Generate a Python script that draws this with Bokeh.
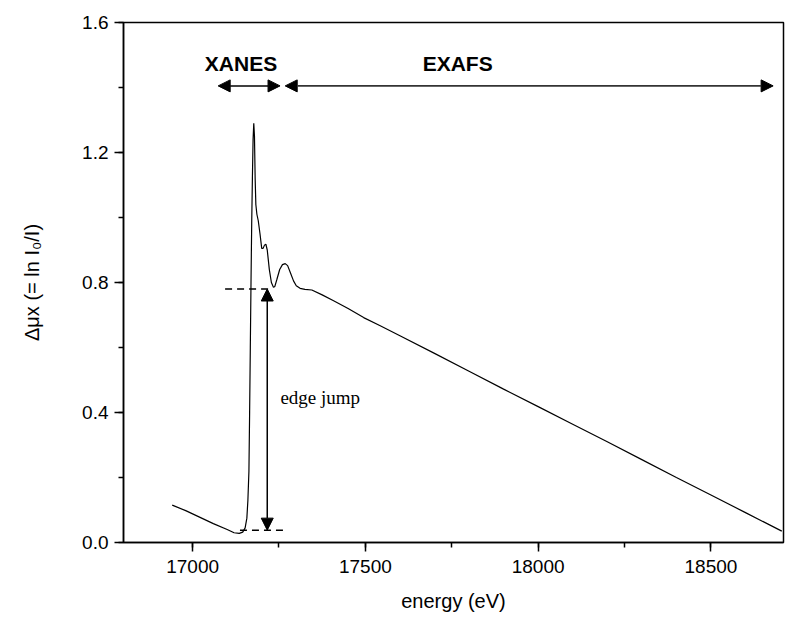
from bokeh.plotting import figure
from bokeh.models import Range1d, Arrow, NormalHead, Label, FixedTicker, CustomJSTickFormatter
from bokeh.embed import file_html
from bokeh.resources import INLINE

# spectrum (energy in eV, absorption)
energy = [16941, 16980, 17020, 17060, 17100, 17120, 17135, 17145, 17152, 17157,
          17160, 17163, 17165, 17167, 17169, 17171, 17173, 17175, 17177, 17179,
          17181, 17183, 17186, 17190, 17195, 17200, 17204, 17208, 17212, 17216,
          17222, 17228, 17234, 17238, 17244, 17252, 17260, 17268, 17275, 17283,
          17292, 17300, 17311, 17325, 17345, 17375, 17408, 17450, 17495, 17543,
          17600, 17700, 17800, 17900, 18000, 18100, 18200, 18300, 18400, 18500,
          18600, 18705]
mu = [0.115, 0.098, 0.078, 0.058, 0.040, 0.030, 0.028, 0.032, 0.045, 0.075,
      0.13, 0.22, 0.40, 0.60, 0.80, 0.98, 1.12, 1.24, 1.29, 1.25,
      1.12, 1.04, 1.01, 0.99, 0.95, 0.905, 0.905, 0.915, 0.918, 0.90,
      0.84, 0.80, 0.785, 0.788, 0.81, 0.84, 0.855, 0.858, 0.852, 0.83,
      0.805, 0.79, 0.782, 0.779, 0.777, 0.762, 0.744, 0.72, 0.692, 0.667,
      0.636, 0.582, 0.527, 0.472, 0.418, 0.364, 0.310, 0.255, 0.200, 0.146,
      0.092, 0.035]

x_ticks = [17000, 17500, 18000, 18500]
y_ticks = [0.0, 0.4, 0.8, 1.2, 1.6]

# annotations
edge_top = 0.78
edge_bottom = 0.038
edge_x = 17216
xanes_range = [17074, 17253]
exafs_range = [17268, 18680]
region_arrow_y = 1.405
region_label_y = 1.473

p = figure(width=803, height=630, output_backend="svg", toolbar_location=None,
           x_range=Range1d(16800, 18710), y_range=Range1d(0.0, 1.6))
p.min_border_left = 123
p.min_border_right = 20
p.min_border_top = 22
p.min_border_bottom = 88
p.background_fill_color = "white"
p.border_fill_color = "white"
p.outline_line_color = "black"
p.outline_line_width = 1.5
p.grid.visible = False

p.line(energy, mu, line_color="black", line_width=1.2)

for ax in (p.xaxis[0], p.yaxis[0]):
    ax.axis_line_width = 1.5
    ax.major_tick_line_width = 1.5
    ax.minor_tick_line_width = 1.5
    ax.major_tick_out = 9
    ax.major_tick_in = 0
    ax.minor_tick_out = 5
    ax.minor_tick_in = 0
    ax.major_label_text_font = "Liberation Sans"
    ax.major_label_text_font_size = "19px"
    ax.major_label_text_color = "black"
    ax.axis_label_text_font = "Liberation Sans"
    ax.axis_label_text_font_size = "20px"
    ax.axis_label_text_font_style = "normal"
    ax.axis_label_text_color = "black"

p.xaxis.ticker = FixedTicker(ticks=x_ticks, minor_ticks=[16750 + 250 * i for i in range(9)])
p.yaxis.ticker = FixedTicker(ticks=y_ticks, minor_ticks=[0.2 * i for i in range(9)])
p.yaxis.formatter = CustomJSTickFormatter(code="return tick.toFixed(1);")
p.xaxis.axis_label = "energy (eV)"
p.yaxis.axis_label = "Δμx (= ln I₀/I)"
p.xaxis.major_label_standoff = 8
p.yaxis.major_label_standoff = 6
p.xaxis.axis_label_standoff = 14
p.yaxis.axis_label_standoff = 36

# edge jump markers
p.line([17094, 17232], [edge_top, edge_top], line_color="black", line_width=1.5, line_dash="7 5")
p.line([17137, 17268], [edge_bottom, edge_bottom], line_color="black", line_width=1.5, line_dash="7 5")
head = dict(size=12, fill_color="black", line_color="black")
p.add_layout(Arrow(start=NormalHead(**head), end=NormalHead(**head),
                   x_start=edge_x, y_start=edge_bottom, x_end=edge_x, y_end=edge_top,
                   line_width=1.5, line_color="black"))
p.add_layout(Label(x=17254, y=0.445, text="edge jump", text_font="Liberation Serif",
                   text_font_size="19px", text_color="black", text_baseline="middle"))

# XANES / EXAFS ranges
p.add_layout(Arrow(start=NormalHead(**head), end=NormalHead(**head),
                   x_start=xanes_range[0], y_start=region_arrow_y,
                   x_end=xanes_range[1], y_end=region_arrow_y,
                   line_width=1.5, line_color="black"))
p.add_layout(Arrow(start=NormalHead(**head), end=NormalHead(**head),
                   x_start=exafs_range[0], y_start=region_arrow_y,
                   x_end=exafs_range[1], y_end=region_arrow_y,
                   line_width=1.8, line_color="#333333"))
for txt, xc in (("XANES", 17140), ("EXAFS", 17767)):
    p.add_layout(Label(x=xc, y=region_label_y, text=txt, text_font="Liberation Sans",
                       text_font_style="bold", text_font_size="21px", text_color="black",
                       text_align="center", text_baseline="middle"))

open("out.html", "w").write(file_html(p, INLINE))
